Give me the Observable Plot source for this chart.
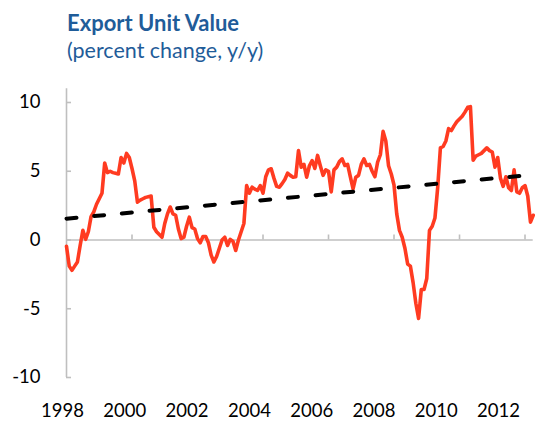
<!DOCTYPE html>
<html><head><meta charset="utf-8">
<script src="https://cdn.jsdelivr.net/npm/d3@7"></script>
<script src="https://cdn.jsdelivr.net/npm/@observablehq/plot@0.6"></script>
<style>
body{margin:0;background:#fff;}
#wrap{width:550px;height:421px;position:relative;font-family:Lato, sans-serif;}
#head{height:60px;box-sizing:border-box;padding-top:10px;padding-left:67px;color:#1f5c99;}
.t{font-weight:700;font-size:22px;line-height:26px;white-space:nowrap;}
.s{font-size:21.5px;line-height:20px;margin-top:4px;white-space:nowrap;}
#chart svg{display:block;}
</style></head>
<body><div id="wrap"><div id="head"><div class="t">Export Unit Value</div><div class="s">(percent change, y/y)</div></div><div id="chart"></div></div>
<script>
// Monthly series, January 1998 to April 2012 (percent change, y/y)
const startYear = 1998;
const values = [
  -0.45, -1.9, -2.2, -1.9, -1.6, -0.4, 0.7, 0.05, 0.6, 1.7, 2.05, 2.6,      // 1998
  3.0, 3.4, 5.6, 4.9, 5.0, 4.9, 4.85, 4.8, 6.0, 5.6, 6.3, 6.0,              // 1999
  5.2, 4.3, 2.75, 2.9, 3.0, 3.1, 3.15, 3.2, 0.93, 0.6, 0.4, 0.2,            // 2000
  1.2, 1.9, 2.4, 1.9, 1.8, 0.8, 0.1, 0.2, 1.0, 1.66, 0.9, 0.8,              // 2001
  0.1, -0.2, 0.25, 0.25, -0.2, -1.1, -1.6, -1.2, -0.6, 0.0, 0.2, -0.4,      // 2002
  0.05, -0.1, -0.76, 0.0, 0.6, 1.2, 3.96, 3.4, 3.84, 3.7, 3.6, 3.96,        // 2003
  3.4, 4.6, 5.1, 5.18, 4.5, 3.9, 3.84, 4.1, 4.4, 4.86, 4.7, 4.57,           // 2004
  4.6, 6.5, 5.3, 5.5, 4.57, 5.4, 5.78, 5.2, 6.15, 5.4, 4.7, 5.1,            // 2005
  5.0, 3.5, 5.1, 5.3, 5.7, 5.9, 5.42, 5.5, 4.6, 3.72, 4.57, 4.7,            // 2006
  5.5, 5.9, 5.42, 5.5, 5.0, 4.6, 5.66, 6.2, 7.9, 7.2, 5.4, 4.8,             // 2007
  4.0, 1.9, 0.7, 0.2, -0.6, -1.75, -1.9, -3.1, -4.6, -5.7, -3.6, -3.6,      // 2008
  -2.8, 0.7, 1.0, 1.6, 3.8, 6.7, 6.8, 7.2, 8.1, 7.96, 8.3, 8.6,             // 2009
  8.8, 9.0, 9.3, 9.65, 9.7, 5.8, 6.1, 6.2, 6.3, 6.5, 6.7, 6.5,              // 2010
  6.4, 5.3, 6.0, 4.5, 3.9, 4.6, 3.8, 3.6, 5.1, 3.5, 3.4, 3.8,               // 2011
  3.96, 3.2, 1.3, 1.8                                                       // 2012
];
const trendYears = [1998, 2012.25];
const trendValues = [1.55, 4.75];
const yTicks = [-10, -5, 0, 5, 10];
const xTicks = [2000, 2002, 2004, 2006, 2008, 2010, 2012];
const xLabels = ["1998", "2000", "2002", "2004", "2006", "2008", "2010", "2012"];
const xLabelPos = [1997.88, 1999.78, 2001.68, 2003.59, 2005.49, 2007.39, 2009.29, 2011.19];

const series = values.map((v, i) => ({x: startYear + i / 12, y: v}));
const trend = trendYears.map((x, i) => ({x, y: trendValues[i]}));
const labelFor = new Map(xLabelPos.map((p, i) => [p, xLabels[i]]));
const xMax = startYear + (values.length - 1) / 12;
const grey = "#bfbfbf";

const chart = Plot.plot({
  width: 550,
  height: 361,
  marginLeft: 66,
  marginRight: 17.3,
  marginTop: 28.25,
  marginBottom: 44,
  style: {fontFamily: "Lato, sans-serif", fontSize: "18.5px", color: "#000", background: "#fff"},
  x: {type: "linear", domain: [startYear, xMax], label: null},
  y: {domain: [-10, 11], label: null},
  marks: [
    Plot.ruleY([0], {x1: startYear, x2: xMax, stroke: grey, strokeWidth: 1.6}),
    Plot.ruleX(xTicks, {x: d => d, y1: 0, y2: 0, insetTop: -5, stroke: grey, strokeWidth: 1.6}),
    Plot.ruleX([startYear], {y1: -10, y2: 11, stroke: grey, strokeWidth: 1.6}),
    Plot.ruleY(yTicks, {y: d => d, x1: startYear, x2: startYear, insetRight: -5, stroke: grey, strokeWidth: 1.6}),
    Plot.line(series, {x: "x", y: "y", stroke: "#ff3b21", strokeWidth: 3.6, strokeLinejoin: "round"}),
    Plot.line(trend, {x: "x", y: "y", stroke: "#000", strokeWidth: 4, strokeDasharray: "10,17.8", strokeLinecap: "round"}),
    Plot.axisY({ticks: yTicks, tickSize: 0, tickPadding: 26, label: null, tickFormat: d => String(d)}),
    Plot.axisX({ticks: xLabelPos, tickSize: 0, tickPadding: 26, label: null, tickFormat: d => labelFor.get(d)})
  ]
});
document.getElementById("chart").appendChild(chart);
</script>
</body></html>
